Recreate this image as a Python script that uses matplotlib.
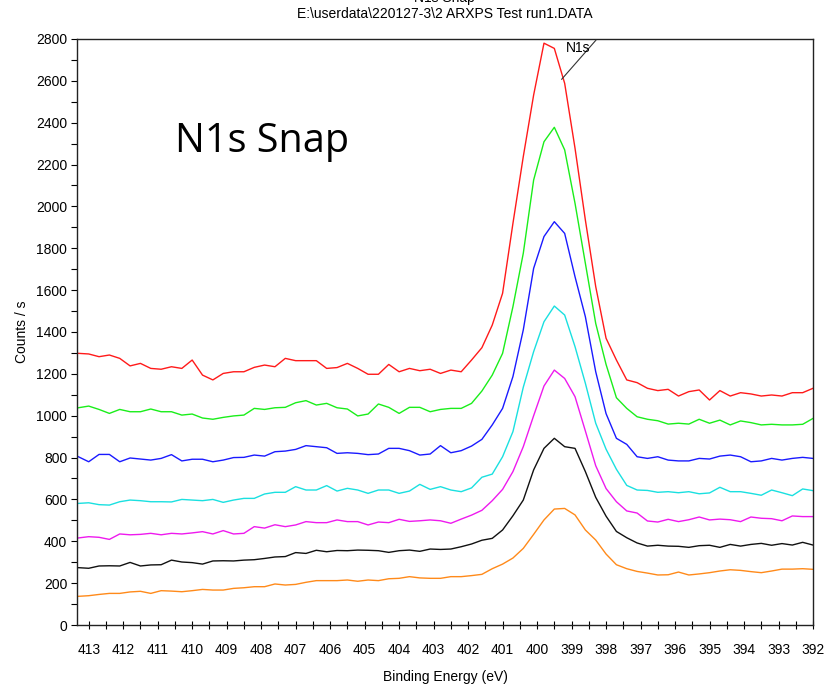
import matplotlib
matplotlib.use("Agg")
import matplotlib.pyplot as plt
from matplotlib.ticker import MultipleLocator

plt.rcParams['font.family'] = ['Liberation Sans', 'DejaVu Sans']

# binding energy grid (eV), 0.3 eV steps
energy = [413.3, 413.0, 412.7, 412.4, 412.1, 411.8, 411.5, 411.2, 410.9, 410.6,
          410.3, 410.0, 409.7, 409.4, 409.1, 408.8, 408.5, 408.2, 407.9, 407.6,
          407.3, 407.0, 406.7, 406.4, 406.1, 405.8, 405.5, 405.2, 404.9, 404.6,
          404.3, 404.0, 403.7, 403.4, 403.1, 402.8, 402.5, 402.2, 401.9, 401.6,
          401.3, 401.0, 400.7, 400.4, 400.1, 399.8, 399.5, 399.2, 398.9, 398.6,
          398.3, 398.0, 397.7, 397.4, 397.1, 396.8, 396.5, 396.2, 395.9, 395.6,
          395.3, 395.0, 394.7, 394.4, 394.1, 393.8, 393.5, 393.2, 392.9, 392.6,
          392.3, 392.0]

red = [1298, 1295, 1282, 1290, 1274, 1238, 1250, 1226, 1222, 1234,
       1226, 1266, 1194, 1171, 1202, 1210, 1210, 1231, 1242, 1234,
       1274, 1263, 1263, 1263, 1226, 1230, 1250, 1226, 1198, 1198,
       1245, 1210, 1226, 1215, 1222, 1202, 1218, 1210, 1266, 1325,
       1433, 1585, 1919, 2238, 2532, 2780, 2755, 2588, 2278, 1935,
       1617, 1370, 1266, 1171, 1158, 1131, 1120, 1126, 1094, 1115,
       1123, 1075, 1120, 1094, 1110, 1104, 1094, 1099, 1094, 1110,
       1110, 1131]

green = [1038, 1046, 1030, 1011, 1030, 1019, 1019, 1032, 1019, 1019,
         1003, 1008, 989, 983, 992, 999, 1003, 1035, 1030, 1038,
         1040, 1062, 1072, 1051, 1059, 1038, 1032, 999, 1008, 1056,
         1040, 1011, 1040, 1040, 1019, 1030, 1035, 1035, 1059, 1118,
         1194, 1298, 1521, 1776, 2126, 2309, 2378, 2270, 2015, 1728,
         1441, 1245, 1086, 1035, 995, 983, 976, 960, 964, 960,
         983, 964, 979, 956, 975, 967, 956, 959, 956, 956,
         959, 987]

blue = [804, 780, 815, 815, 780, 798, 793, 788, 796, 814,
        784, 792, 792, 780, 788, 800, 801, 812, 807, 828,
        831, 839, 857, 852, 847, 820, 823, 820, 814, 817,
        844, 844, 833, 812, 817, 857, 823, 833, 855, 887,
        956, 1035, 1187, 1410, 1704, 1856, 1927, 1871, 1664, 1473,
        1210, 1010, 892, 863, 804, 796, 804, 788, 784, 784,
        796, 793, 807, 812, 804, 780, 784, 796, 788, 796,
        801, 796]

cyan = [581, 584, 575, 573, 589, 597, 594, 589, 589, 588,
        600, 597, 594, 600, 586, 597, 605, 605, 626, 634,
        634, 661, 645, 645, 666, 640, 653, 645, 629, 645,
        645, 629, 640, 672, 648, 661, 645, 637, 655, 706,
        721, 804, 924, 1136, 1306, 1449, 1524, 1481, 1330, 1155,
        964, 840, 744, 667, 645, 643, 634, 637, 632, 637,
        627, 631, 658, 637, 637, 629, 620, 645, 632, 618,
        650, 642]

magenta = [416, 422, 419, 409, 435, 431, 433, 438, 431, 438,
           435, 440, 446, 435, 451, 435, 438, 470, 463, 479,
           470, 478, 494, 489, 489, 502, 494, 494, 478, 492,
           489, 505, 495, 498, 502, 498, 486, 506, 525, 548,
           594, 648, 733, 852, 1000, 1142, 1218, 1178, 1091, 927,
           761, 652, 589, 545, 535, 497, 492, 505, 494, 503,
           516, 502, 506, 503, 494, 516, 510, 508, 498, 521,
           518, 518]

black = [274, 271, 282, 283, 282, 299, 282, 287, 288, 310,
         301, 298, 291, 306, 307, 306, 310, 312, 318, 325,
         327, 346, 342, 357, 350, 356, 355, 358, 357, 355,
         347, 355, 358, 352, 363, 361, 363, 374, 387, 405,
         414, 454, 522, 597, 741, 844, 892, 852, 844, 733,
         610, 520, 447, 417, 392, 377, 381, 377, 376, 371,
         379, 381, 371, 385, 377, 385, 390, 381, 389, 382,
         395, 382]

orange = [137, 140, 146, 151, 151, 158, 161, 151, 164, 162,
          159, 164, 170, 167, 167, 175, 178, 183, 183, 196,
          191, 194, 204, 212, 212, 212, 215, 209, 215, 212,
          221, 223, 231, 225, 223, 223, 231, 231, 236, 242,
          269, 291, 320, 366, 433, 502, 554, 557, 526, 454,
          406, 339, 288, 269, 256, 248, 239, 240, 253, 239,
          244, 250, 258, 264, 261, 255, 250, 258, 267, 267,
          269, 266]

series = [red, green, blue, cyan, magenta, black, orange]
colors = ['#ff1a1a', '#1aee1a', '#1a1aff', '#1ae0e0', '#ee1aee', '#111111', '#ff8a1a']

fig = plt.figure(figsize=(8.33, 6.9), dpi=100)
ax = fig.add_axes([0.0924, 0.0942, 0.8836, 0.8493])

for ys, c in zip(series, colors):
    ax.plot(energy, ys, color=c, lw=1.0)

ax.set_xlim(413.34, 392.0)
ax.set_ylim(0, 2800)
ax.xaxis.set_major_locator(MultipleLocator(1))
ax.xaxis.set_minor_locator(MultipleLocator(0.5))
ax.yaxis.set_major_locator(MultipleLocator(200))
ax.yaxis.set_minor_locator(MultipleLocator(100))
ax.tick_params(axis='x', which='both', direction='inout', length=6, width=0.8,
               pad=10, labelsize=10)
ax.tick_params(axis='y', which='both', direction='out', length=4, width=0.8,
               pad=3, labelsize=10)
for s in ax.spines.values():
    s.set_linewidth(1.0)
    s.set_color('#222222')

ax.set_xlabel('Binding Energy (eV)', fontsize=10, labelpad=9)
ax.set_ylabel('Counts / s', fontsize=10, labelpad=5)

# peak label
ax.annotate('', xy=(399.29, 2607), xytext=(398.29, 2795),
            arrowprops=dict(arrowstyle='-', lw=0.8, color='#333333',
                            shrinkA=0, shrinkB=0))
ax.text(398.82, 2757, 'N1s', fontsize=10, ha='center', va='center')

ax.text(0.251, 0.824, 'N1s Snap', transform=ax.transAxes, fontsize=28.5,
        family=['Open Sans', 'DejaVu Sans'], ha='center', va='center')

fig.text(0.534, 0.98, 'E:\\userdata\\220127-3\\2 ARXPS Test run1.DATA',
         ha='center', va='center', fontsize=10)
fig.text(0.534, 1.003, 'N1s Snap', ha='center', va='center', fontsize=10)

fig.savefig('out.png', dpi=100, facecolor='white')
